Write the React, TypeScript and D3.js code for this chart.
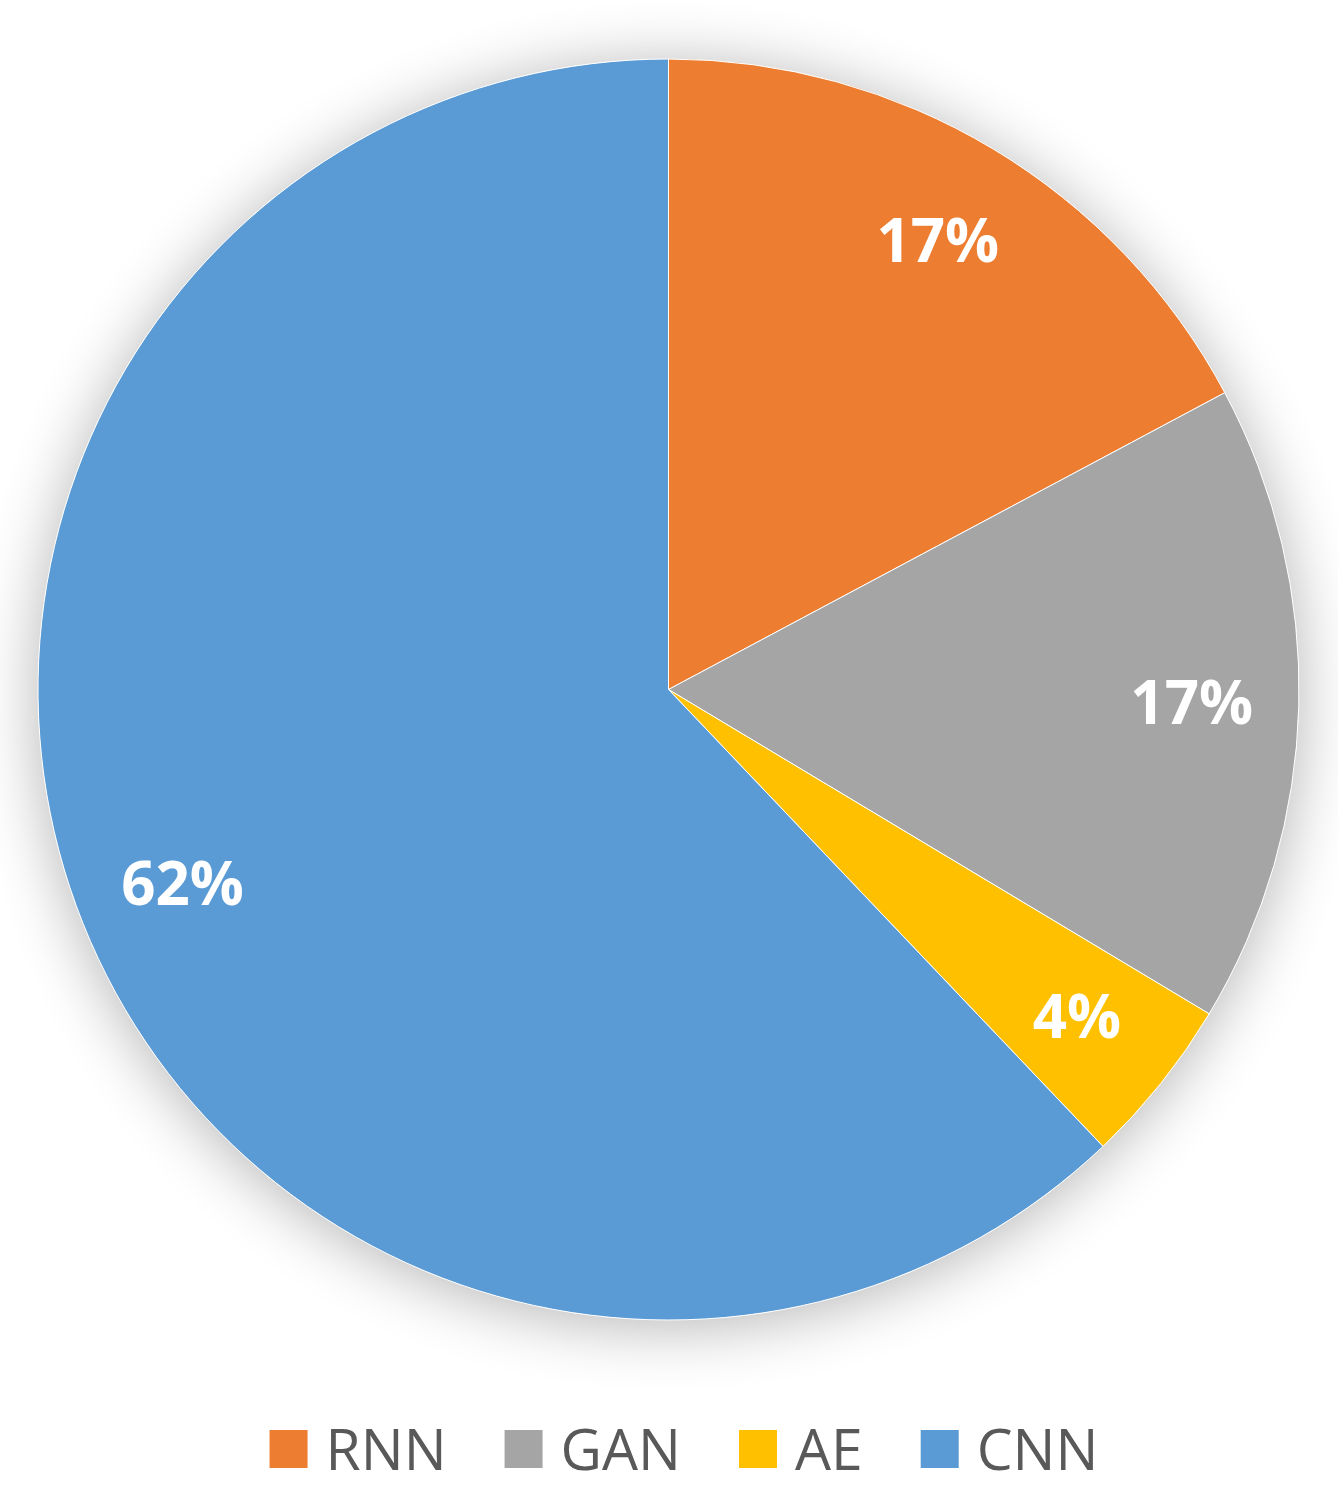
import React, { useEffect, useRef } from "react";
import * as d3 from "d3";

const categories = ["RNN", "GAN", "AE", "CNN"];
const values = [17.2, 16.4, 4.3, 62.1];
const labels = ["17%", "17%", "4%", "62%"];
const colors = ["#ED7D31", "#A5A5A5", "#FFC000", "#5B9BD5"];

const W = 1338;
const H = 1500;

export default function App() {
  const ref = useRef<SVGSVGElement>(null);

  useEffect(() => {
    const svg = d3.select(ref.current);
    svg.selectAll("*").remove();

    const cx = 668.5;
    const cy = 689.5;
    const R = 630.5;

    const defs = svg.append("defs");
    const f = defs
      .append("filter")
      .attr("id", "glow")
      .attr("x", "-25%")
      .attr("y", "-25%")
      .attr("width", "150%")
      .attr("height", "150%");
    f.append("feGaussianBlur").attr("in", "SourceAlpha").attr("stdDeviation", 32).attr("result", "b");
    f.append("feOffset").attr("in", "b").attr("dx", 0).attr("dy", 6).attr("result", "o");
    f.append("feComponentTransfer")
      .attr("in", "o")
      .attr("result", "s")
      .append("feFuncA")
      .attr("type", "linear")
      .attr("slope", 0.3);
    const m = f.append("feMerge");
    m.append("feMergeNode").attr("in", "s");
    m.append("feMergeNode").attr("in", "SourceGraphic");

    svg.append("rect").attr("width", W).attr("height", H).attr("fill", "#ffffff");

    const data = categories.map((c, i) => ({ c, v: values[i], label: labels[i], color: colors[i] }));
    const pie = d3.pie<any>().value((d) => d.v).sort(null);
    const arcs = pie(data);
    const arc = d3.arc<any>().innerRadius(0).outerRadius(R);

    const g = svg.append("g").attr("transform", `translate(${cx},${cy})`);
    g.append("circle").attr("r", R).attr("fill", "#ffffff").attr("filter", "url(#glow)");
    g.selectAll("path.slice")
      .data(arcs)
      .enter()
      .append("path")
      .attr("class", "slice")
      .attr("d", arc as any)
      .attr("fill", (d: any) => d.data.color)
      .attr("stroke", "#ffffff")
      .attr("stroke-width", 1);

    const labelArc = d3.arc<any>().innerRadius(R * 0.83).outerRadius(R * 0.83);
    g.selectAll("text.lbl")
      .data(arcs)
      .enter()
      .append("text")
      .attr("class", "lbl")
      .attr("transform", (d: any) => `translate(${labelArc.centroid(d)})`)
      .attr("text-anchor", "middle")
      .attr("dy", "0.36em")
      .attr("fill", "#ffffff")
      .attr("font-family", "'Open Sans', sans-serif")
      .attr("font-weight", 700)
      .attr("font-size", 60)
      .text((d: any) => d.data.label);

    // legend
    const lg = svg.append("g");
    const sq = 38;
    const gapText = 18;
    const gapItem = 58;
    const items = lg
      .selectAll("g.item")
      .data(data)
      .enter()
      .append("g")
      .attr("class", "item");
    items.append("rect").attr("width", sq).attr("height", sq).attr("fill", (d: any) => d.color);
    items
      .append("text")
      .attr("x", sq + gapText)
      .attr("y", sq / 2)
      .attr("dy", "0.36em")
      .attr("fill", "#595959")
      .attr("font-family", "'Open Sans', sans-serif")
      .attr("font-size", 57)
      .text((d: any) => d.c);
    let x = 0;
    const positions: number[] = [];
    items.each(function () {
      const t = d3.select(this).select("text").node() as SVGTextElement;
      positions.push(x);
      x += sq + gapText + t.getComputedTextLength() + gapItem;
    });
    const total = x - gapItem;
    const startX = 684 - total / 2;
    items.attr("transform", (_d: any, i: number) => `translate(${startX + positions[i]},${1430})`);
  }, []);

  return (
    <svg
      ref={ref}
      width={W}
      height={H}
      style={{ position: "absolute", left: 0, top: 0, display: "block" }}
    />
  );
}
